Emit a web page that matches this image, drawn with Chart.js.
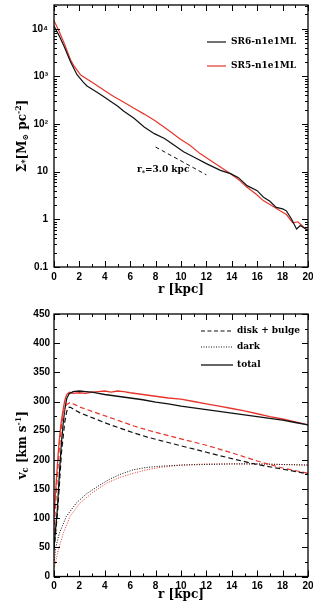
<!DOCTYPE html>
<html><head><meta charset="utf-8">
<script src="https://cdn.jsdelivr.net/npm/chart.js@4"></script>
<style>
html,body{margin:0;padding:0;background:#fff;width:313px;height:607px;overflow:hidden}
canvas{position:absolute;left:0}
</style></head>
<body>
<canvas id="c1" width="313" height="300" style="top:0"></canvas>
<canvas id="c2" width="313" height="307" style="top:300px"></canvas>
<script>
// ---------- top panel: surface density ----------
const R_SR6 = [0, 0.4, 0.8, 1.3, 1.8, 2.3, 2.6, 3.2, 3.9, 4.5, 5.0, 5.5, 6.3, 7.1, 7.9, 8.7, 9.5, 10.2, 11.0, 12.0, 13.1, 13.9, 14.5, 15.2, 16.0, 16.5, 17.0, 17.5, 18.0, 18.3, 18.7, 19.1, 19.4, 19.7, 20.0];
const SIGMA_SR6 = [11500, 7200, 4270, 2040, 1100, 760, 630, 500, 380, 295, 240, 186, 132, 87, 63, 50, 35.5, 26.3, 20.4, 14.8, 10.7, 9.1, 7.6, 5.1, 4.0, 2.9, 2.4, 1.78, 1.66, 1.51, 1.02, 0.63, 0.74, 0.66, 0.58];
const R_SR5 = [0, 0.4, 0.8, 1.3, 1.6, 2.1, 3.15, 4.0, 4.7, 5.5, 6.3, 7.1, 7.9, 8.6, 9.2, 9.9, 10.7, 11.5, 12.3, 13.1, 13.9, 14.6, 15.2, 15.9, 16.5, 17.2, 17.8, 18.3, 18.8, 19.2, 19.6, 20.0];
const SIGMA_SR5 = [14800, 8900, 5000, 2240, 1620, 1070, 710, 500, 380, 288, 214, 162, 120, 89, 68, 49, 36, 24, 17.4, 12.6, 9.1, 6.6, 4.7, 3.4, 2.45, 1.9, 1.51, 1.26, 0.85, 0.89, 0.71, 0.58];
const R_SCALE_LINE = [8, 12];
const SIGMA_SCALE_LINE = [33, 8.6];

// ---------- bottom panel: rotation curves ----------
const R_TOT_SR6 = [0, 0.1, 0.26, 0.42, 0.58, 0.72, 0.84, 1.0, 1.18, 1.5, 2, 2.5, 3, 3.5, 4, 5, 6, 7, 8, 9, 10, 11, 12, 13, 14, 15, 16, 17, 18, 19, 20];
const V_TOT_SR6 = [50, 75, 114, 175, 228, 262, 285, 305, 313, 317, 318, 317, 316, 314, 312, 309, 306, 303, 299, 296, 292, 289, 286, 283, 280, 277, 274, 271, 268, 264, 260];
const R_TOT_SR5 = [0.02, 0.2, 0.39, 0.55, 0.71, 0.85, 1.0, 1.2, 1.5, 2, 2.5, 3, 3.5, 4, 4.5, 5, 5.5, 6, 7, 8, 9, 10, 11, 12, 13, 14, 15, 16, 17, 18, 19, 20];
const V_TOT_SR5 = [110, 170, 228, 262, 285, 302, 312, 316, 314, 315, 314, 316, 317, 318, 316, 318, 317, 315, 312, 309, 306, 304, 300, 296, 292, 288, 284, 279, 274, 270, 265, 260];
const R_DISK_SR6 = [0, 0.28, 0.6, 0.85, 1.0, 1.15, 1.3, 1.6, 2.1, 3.15, 4.2, 5.25, 6.3, 7.35, 8.4, 10, 12, 14, 16, 18, 20];
const V_DISK_SR6 = [45, 110, 215, 265, 283, 290, 290, 286, 280, 271, 262, 254, 246, 239, 233, 224, 213, 202, 192, 184, 176];
const R_DISK_SR5 = [0, 0.2, 0.4, 0.6, 0.8, 1.0, 1.25, 1.6, 2.1, 3, 4.2, 5.25, 6.3, 7.35, 8.4, 10, 12, 14, 16, 18, 20];
const V_DISK_SR5 = [75, 150, 215, 260, 285, 295, 298, 295, 290, 283, 274, 266, 258, 251, 245, 236, 225, 212, 198, 186, 177];
const R_DARK_SR6 = [0.03, 0.15, 0.42, 0.97, 1.76, 2.57, 3.62, 4.4, 5.2, 6.25, 7.3, 8.35, 10, 12, 14, 16, 18, 20];
const V_DARK_SR6 = [28, 51, 74, 103, 126, 142, 157, 167, 175, 183, 187, 189, 191, 192, 193, 193, 192, 191];
const R_DARK_SR5 = [0.05, 0.33, 0.73, 1.26, 2.05, 3.1, 4.15, 5.2, 6.25, 7.3, 8.35, 10, 12, 14, 16, 18, 20];
const V_DARK_SR5 = [17, 45, 74, 103, 126, 145, 160, 170, 177, 183, 187, 191, 193, 193, 193, 192, 191];

// ---------- ticks ----------
const R_TICKS = [0, 2, 4, 6, 8, 10, 12, 14, 16, 18, 20];
const R_MINOR = [1, 3, 5, 7, 9, 11, 13, 15, 17, 19];
const SIGMA_TICKS = [0.1, 1, 10, 100, 1000, 10000];
const SIGMA_TICK_LABELS = ['0.1', '1', '10', '10²', '10³', '10⁴'];
const V_TICKS = [0, 50, 100, 150, 200, 250, 300, 350, 400, 450];
const V_MINOR = [25, 75, 125, 175, 225, 275, 325, 375, 425];

const BLACK = '#111111';
const RED = '#e5352c';
const SERIF = "'DejaVu Serif', serif";
const SANS = "'Liberation Sans', Arial, sans-serif";

const SIGMA_MINOR = [];
SIGMA_TICKS.forEach(d => { for (let m = 2; m <= 9; m++) { const v = d * m; if (v <= 31623) SIGMA_MINOR.push(v); } });

function pts(xs, ys) { return xs.map((x, i) => ({x: x, y: ys[i]})); }

function richText(ctx, parts, x, y, rot, base, align) {
  ctx.save();
  ctx.translate(x, y);
  ctx.rotate(rot);
  ctx.fillStyle = '#000';
  ctx.textBaseline = 'middle';
  ctx.textAlign = 'left';
  let total = 0;
  const ws = parts.map(p => { ctx.font = 'bold ' + (base * p[1]) + 'px ' + SERIF; const w = ctx.measureText(p[0]).width; total += w; return w; });
  let cx = align === 'left' ? 0 : -total / 2;
  parts.forEach((p, i) => { ctx.font = 'bold ' + (base * p[1]) + 'px ' + SERIF; ctx.fillText(p[0], cx, p[2]); cx += ws[i]; });
  ctx.restore();
}

const frameTicks = {
  id: 'frameTicks',
  afterDraw(chart, args, o) {
    const {ctx, chartArea: {left, right, top, bottom}, scales: {x, y}} = chart;
    ctx.save();
    ctx.strokeStyle = '#000';
    ctx.lineWidth = 1;
    const tick = (vals, len, horiz) => {
      vals.forEach(v => {
        ctx.beginPath();
        if (horiz) {
          const px = Math.round(x.getPixelForValue(v)) + 0.5;
          ctx.moveTo(px, bottom); ctx.lineTo(px, bottom - len);
          ctx.moveTo(px, top); ctx.lineTo(px, top + len);
        } else {
          const py = Math.round(y.getPixelForValue(v)) + 0.5;
          ctx.moveTo(left, py); ctx.lineTo(left + len, py);
          ctx.moveTo(right, py); ctx.lineTo(right - len, py);
        }
        ctx.stroke();
      });
    };
    tick(o.xMajor, 6, true); tick(o.xMinor, 3, true);
    tick(o.yMajor, 6, false); tick(o.yMinor, 3, false);
    ctx.lineWidth = 1.3;
    ctx.strokeRect(left, top, right - left, bottom - top);
    ctx.restore();
  }
};

const decor = {
  id: 'decor',
  afterDraw(chart, args, o) {
    const ctx = chart.ctx;
    const {top, bottom} = chart.chartArea;
    // y-axis title
    richText(ctx, o.ytitle, o.ytitleX, (top + bottom) / 2, -Math.PI / 2, 12);
    // legend
    o.legend.forEach(item => {
      ctx.save();
      ctx.strokeStyle = item.color;
      ctx.lineWidth = item.width;
      ctx.setLineDash(item.dash);
      ctx.beginPath();
      ctx.moveTo(o.lx0, item.y); ctx.lineTo(o.lx1, item.y);
      ctx.stroke();
      ctx.restore();
      richText(ctx, [[item.text, 1, 0]], o.tx, item.y, 0, 9, 'left');
    });
    if (o.note) {
      richText(ctx, o.note.parts, o.note.x, o.note.y, 0, 9, 'left');
    }
  }
};

function xScale(height, padBottom) {
  return {
    type: 'linear', min: 0, max: 20,
    afterBuildTicks: s => { s.ticks = R_TICKS.map(v => ({value: v})); },
    afterFit: s => { s.height = height; s.paddingLeft = 0; s.paddingRight = 0; },
    grid: {display: false, drawTicks: false},
    border: {display: false},
    ticks: {color: '#000', font: {family: SANS, weight: 'bold', size: 10}, padding: 4, maxRotation: 0, autoSkip: false},
    title: {display: true, text: 'r [kpc]', color: '#000', font: {family: SERIF, weight: 'bold', size: 12}, padding: {top: 0, bottom: padBottom}}
  };
}

new Chart(document.getElementById('c1'), {
  type: 'line',
  data: {datasets: [
    {label: 'SR6-n1e1ML', data: pts(R_SR6, SIGMA_SR6), borderColor: BLACK, borderWidth: 1.2, pointRadius: 0, tension: 0},
    {label: 'SR5-n1e1ML', data: pts(R_SR5, SIGMA_SR5), borderColor: RED, borderWidth: 1.2, pointRadius: 0, tension: 0},
    {label: 'r*=3.0 kpc', data: pts(R_SCALE_LINE, SIGMA_SCALE_LINE), borderColor: BLACK, borderWidth: 1, borderDash: [4, 3], pointRadius: 0}
  ]},
  options: {
    responsive: false, animation: false, events: [],
    layout: {padding: {left: 0, right: 5, top: 5, bottom: 0}},
    plugins: {
      legend: {display: false}, tooltip: {enabled: false},
      frameTicks: {xMajor: R_TICKS, xMinor: R_MINOR, yMajor: SIGMA_TICKS, yMinor: SIGMA_MINOR},
      decor: {
        ytitle: [['Σ', 1, 0], ['*', 0.7, 3], ['[M', 1, 0], ['⊙', 0.65, 3], [' pc', 1, 0], ['-2', 0.65, -4], [']', 1, 0]],
        ytitleX: 23,
        lx0: 207, lx1: 226, tx: 231,
        legend: [
          {text: 'SR6-n1e1ML', color: BLACK, width: 1.2, dash: [], y: 42},
          {text: 'SR5-n1e1ML', color: RED, width: 1.2, dash: [], y: 66}
        ],
        note: {x: 137, y: 170, parts: [['r', 1, 0], ['*', 0.7, 3], ['=3.0 kpc', 1, 0]]}
      }
    },
    scales: {
      x: xScale(33, 3),
      y: {
        type: 'logarithmic', min: 0.1, max: 31623,
        afterBuildTicks: s => { s.ticks = SIGMA_TICKS.map(v => ({value: v})); },
        afterFit: s => { s.width = 54; s.paddingTop = 0; s.paddingBottom = 0; },
        grid: {display: false, drawTicks: false},
        border: {display: false},
        ticks: {color: '#000', font: {family: SANS, weight: 'bold', size: 10}, padding: 6, autoSkip: false,
          callback: (v, i) => SIGMA_TICK_LABELS[i]}
      }
    }
  },
  plugins: [frameTicks, decor]
});

new Chart(document.getElementById('c2'), {
  type: 'line',
  data: {datasets: [
    {label: 'disk + bulge SR6', data: pts(R_DISK_SR6, V_DISK_SR6), borderColor: BLACK, borderWidth: 1.2, borderDash: [5, 3], pointRadius: 0},
    {label: 'disk + bulge SR5', data: pts(R_DISK_SR5, V_DISK_SR5), borderColor: RED, borderWidth: 1.2, borderDash: [5, 3], pointRadius: 0},
    {label: 'dark SR6', data: pts(R_DARK_SR6, V_DARK_SR6), borderColor: BLACK, borderWidth: 1, borderDash: [1, 1.5], pointRadius: 0},
    {label: 'dark SR5', data: pts(R_DARK_SR5, V_DARK_SR5), borderColor: RED, borderWidth: 1, borderDash: [1, 1.5], pointRadius: 0},
    {label: 'total SR6', data: pts(R_TOT_SR6, V_TOT_SR6), borderColor: BLACK, borderWidth: 1.3, pointRadius: 0},
    {label: 'total SR5', data: pts(R_TOT_SR5, V_TOT_SR5), borderColor: RED, borderWidth: 1.3, pointRadius: 0}
  ]},
  options: {
    responsive: false, animation: false, events: [],
    layout: {padding: {left: 0, right: 5, top: 14, bottom: 0}},
    plugins: {
      legend: {display: false}, tooltip: {enabled: false},
      frameTicks: {xMajor: R_TICKS, xMinor: R_MINOR, yMajor: V_TICKS, yMinor: V_MINOR},
      decor: {
        ytitle: [['v', 1, 0], ['c', 0.7, 3], [' [km s', 1, 0], ['-1', 0.65, -4], [']', 1, 0]],
        ytitleX: 23,
        lx0: 201, lx1: 233, tx: 237,
        legend: [
          {text: 'disk + bulge', color: BLACK, width: 1.2, dash: [4, 2.5], y: 31},
          {text: 'dark', color: BLACK, width: 1, dash: [1, 1.5], y: 47},
          {text: 'total', color: BLACK, width: 1.3, dash: [], y: 65}
        ]
      }
    },
    scales: {
      x: xScale(30.5, 5),
      y: {
        type: 'linear', min: 0, max: 450,
        afterBuildTicks: s => { s.ticks = V_TICKS.map(v => ({value: v})); },
        afterFit: s => { s.width = 54; s.paddingTop = 0; s.paddingBottom = 0; },
        grid: {display: false, drawTicks: false},
        border: {display: false},
        ticks: {color: '#000', font: {family: SANS, weight: 'bold', size: 10}, padding: 4, autoSkip: false}
      }
    }
  },
  plugins: [frameTicks, decor]
});
</script>
</body></html>
